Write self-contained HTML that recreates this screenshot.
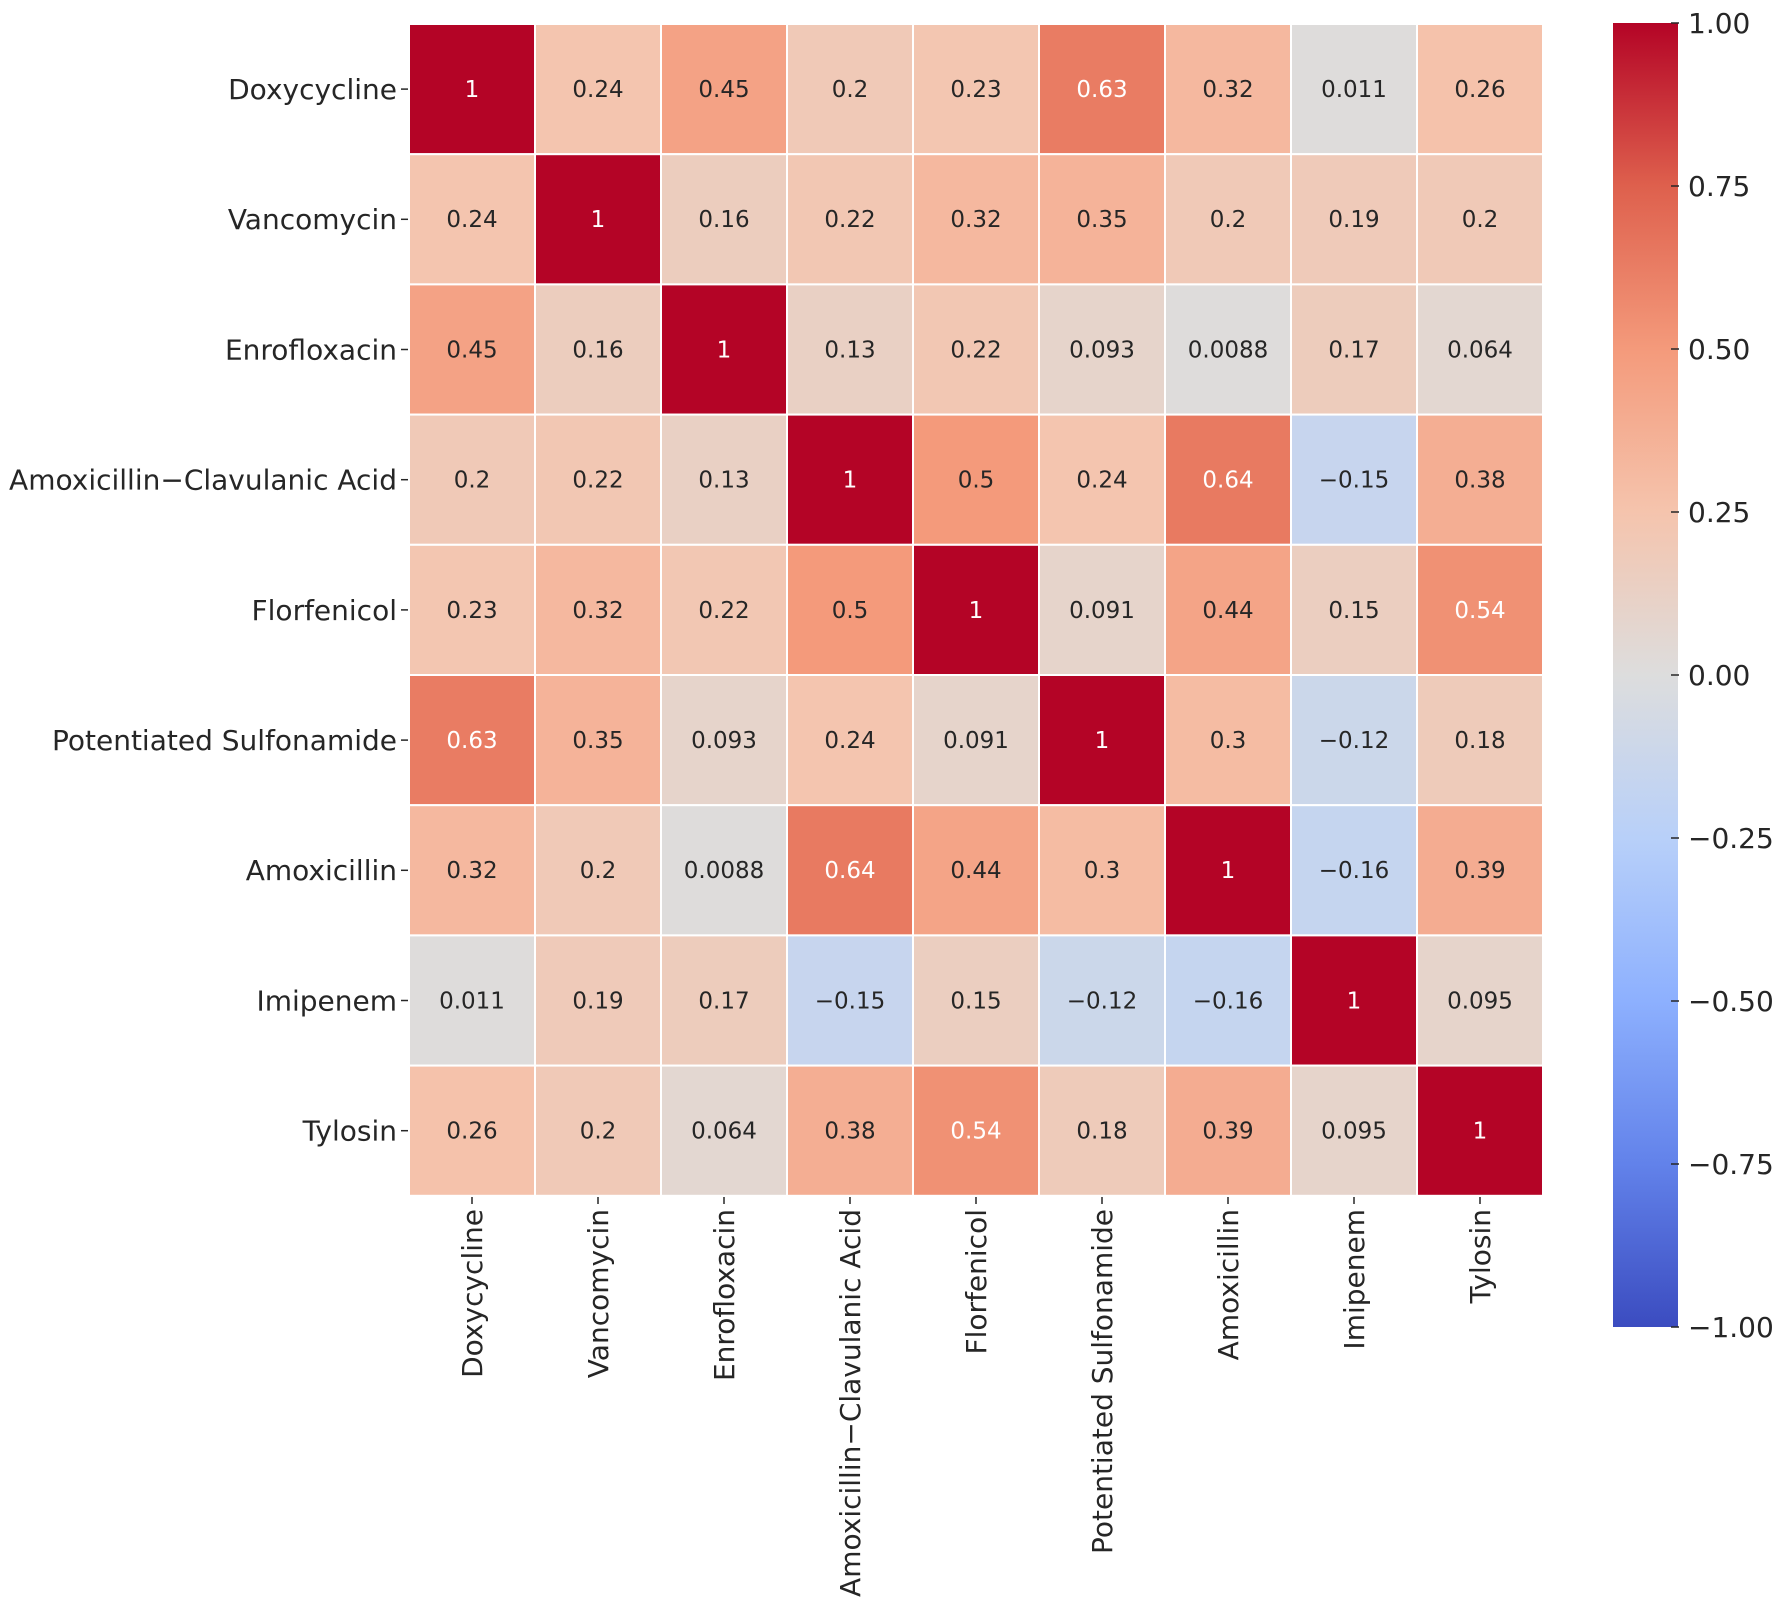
<!DOCTYPE html>
<html><head><meta charset="utf-8"><style>
html,body{margin:0;padding:0;background:#fff}
svg{display:block}
text{font-family:"DejaVu Sans","Liberation Sans",sans-serif;fill:#262626}
.a{font-size:23px;text-anchor:middle}
.w{fill:#fff}
.yl{font-size:28px;text-anchor:end}
.xl{font-size:28px;text-anchor:end}
.cb{font-size:28px}
rect.c{stroke:#fff;stroke-width:2}
</style></head><body>
<svg width="1784" height="1603" viewBox="0 0 1784 1603" xmlns="http://www.w3.org/2000/svg">
<defs>
<linearGradient id="g" x1="0" y1="1" x2="0" y2="0">
<stop offset="0" stop-color="rgb(59,76,192)"/>
<stop offset="0.125" stop-color="rgb(98,130,234)"/>
<stop offset="0.25" stop-color="rgb(141,176,254)"/>
<stop offset="0.375" stop-color="rgb(184,208,249)"/>
<stop offset="0.5" stop-color="rgb(221,221,221)"/>
<stop offset="0.625" stop-color="rgb(245,196,173)"/>
<stop offset="0.75" stop-color="rgb(244,154,123)"/>
<stop offset="0.875" stop-color="rgb(222,96,77)"/>
<stop offset="1" stop-color="rgb(180,4,38)"/>
</linearGradient>
</defs>

<g transform="translate(409,24)">
<rect class="c" x="0" width="126" height="130.2" fill="rgb(180,4,38)"/><text class="a w" x="63" y="73">1</text>
<rect class="c" x="126" width="126" height="130.2" fill="rgb(244,197,175)"/><text class="a" x="189" y="73">0.24</text>
<rect class="c" x="252" width="126" height="130.2" fill="rgb(244,162,133)"/><text class="a" x="315" y="73">0.45</text>
<rect class="c" x="378" width="126" height="130.2" fill="rgb(240,201,183)"/><text class="a" x="441" y="73">0.2</text>
<rect class="c" x="504" width="126" height="130.2" fill="rgb(243,198,177)"/><text class="a" x="567" y="73">0.23</text>
<rect class="c" x="630" width="126" height="130.2" fill="rgb(233,124,99)"/><text class="a w" x="693" y="73">0.63</text>
<rect class="c" x="756" width="126" height="130.2" fill="rgb(245,184,159)"/><text class="a" x="819" y="73">0.32</text>
<rect class="c" x="882" width="126" height="130.2" fill="rgb(222,220,219)"/><text class="a" x="945" y="73">0.011</text>
<rect class="c" x="1008" width="126" height="130.2" fill="rgb(245,194,171)"/><text class="a" x="1071" y="73">0.26</text>
</g>
<g transform="translate(409,154.2)">
<rect class="c" x="0" width="126" height="130.2" fill="rgb(244,197,175)"/><text class="a" x="63" y="73">0.24</text>
<rect class="c" x="126" width="126" height="130.2" fill="rgb(180,4,38)"/><text class="a w" x="189" y="73">1</text>
<rect class="c" x="252" width="126" height="130.2" fill="rgb(236,205,190)"/><text class="a" x="315" y="73">0.16</text>
<rect class="c" x="378" width="126" height="130.2" fill="rgb(242,199,179)"/><text class="a" x="441" y="73">0.22</text>
<rect class="c" x="504" width="126" height="130.2" fill="rgb(245,184,159)"/><text class="a" x="567" y="73">0.32</text>
<rect class="c" x="630" width="126" height="130.2" fill="rgb(245,179,153)"/><text class="a" x="693" y="73">0.35</text>
<rect class="c" x="756" width="126" height="130.2" fill="rgb(240,201,183)"/><text class="a" x="819" y="73">0.2</text>
<rect class="c" x="882" width="126" height="130.2" fill="rgb(239,202,185)"/><text class="a" x="945" y="73">0.19</text>
<rect class="c" x="1008" width="126" height="130.2" fill="rgb(240,201,183)"/><text class="a" x="1071" y="73">0.2</text>
</g>
<g transform="translate(409,284.4)">
<rect class="c" x="0" width="126" height="130.2" fill="rgb(244,162,133)"/><text class="a" x="63" y="73">0.45</text>
<rect class="c" x="126" width="126" height="130.2" fill="rgb(236,205,190)"/><text class="a" x="189" y="73">0.16</text>
<rect class="c" x="252" width="126" height="130.2" fill="rgb(180,4,38)"/><text class="a w" x="315" y="73">1</text>
<rect class="c" x="378" width="126" height="130.2" fill="rgb(233,208,196)"/><text class="a" x="441" y="73">0.13</text>
<rect class="c" x="504" width="126" height="130.2" fill="rgb(242,199,179)"/><text class="a" x="567" y="73">0.22</text>
<rect class="c" x="630" width="126" height="130.2" fill="rgb(230,212,203)"/><text class="a" x="693" y="73">0.093</text>
<rect class="c" x="756" width="126" height="130.2" fill="rgb(222,220,219)"/><text class="a" x="819" y="73">0.0088</text>
<rect class="c" x="882" width="126" height="130.2" fill="rgb(237,204,188)"/><text class="a" x="945" y="73">0.17</text>
<rect class="c" x="1008" width="126" height="130.2" fill="rgb(227,215,209)"/><text class="a" x="1071" y="73">0.064</text>
</g>
<g transform="translate(409,414.6)">
<rect class="c" x="0" width="126" height="130.2" fill="rgb(240,201,183)"/><text class="a" x="63" y="73">0.2</text>
<rect class="c" x="126" width="126" height="130.2" fill="rgb(242,199,179)"/><text class="a" x="189" y="73">0.22</text>
<rect class="c" x="252" width="126" height="130.2" fill="rgb(233,208,196)"/><text class="a" x="315" y="73">0.13</text>
<rect class="c" x="378" width="126" height="130.2" fill="rgb(180,4,38)"/><text class="a w" x="441" y="73">1</text>
<rect class="c" x="504" width="126" height="130.2" fill="rgb(244,154,123)"/><text class="a" x="567" y="73">0.5</text>
<rect class="c" x="630" width="126" height="130.2" fill="rgb(244,197,175)"/><text class="a" x="693" y="73">0.24</text>
<rect class="c" x="756" width="126" height="130.2" fill="rgb(232,122,97)"/><text class="a w" x="819" y="73">0.64</text>
<rect class="c" x="882" width="126" height="130.2" fill="rgb(199,213,238)"/><text class="a" x="945" y="73">−0.15</text>
<rect class="c" x="1008" width="126" height="130.2" fill="rgb(244,174,147)"/><text class="a" x="1071" y="73">0.38</text>
</g>
<g transform="translate(409,544.8)">
<rect class="c" x="0" width="126" height="130.2" fill="rgb(243,198,177)"/><text class="a" x="63" y="73">0.23</text>
<rect class="c" x="126" width="126" height="130.2" fill="rgb(245,184,159)"/><text class="a" x="189" y="73">0.32</text>
<rect class="c" x="252" width="126" height="130.2" fill="rgb(242,199,179)"/><text class="a" x="315" y="73">0.22</text>
<rect class="c" x="378" width="126" height="130.2" fill="rgb(244,154,123)"/><text class="a" x="441" y="73">0.5</text>
<rect class="c" x="504" width="126" height="130.2" fill="rgb(180,4,38)"/><text class="a w" x="567" y="73">1</text>
<rect class="c" x="630" width="126" height="130.2" fill="rgb(230,212,203)"/><text class="a" x="693" y="73">0.091</text>
<rect class="c" x="756" width="126" height="130.2" fill="rgb(244,164,135)"/><text class="a" x="819" y="73">0.44</text>
<rect class="c" x="882" width="126" height="130.2" fill="rgb(235,206,192)"/><text class="a" x="945" y="73">0.15</text>
<rect class="c" x="1008" width="126" height="130.2" fill="rgb(240,145,116)"/><text class="a w" x="1071" y="73">0.54</text>
</g>
<g transform="translate(409,675)">
<rect class="c" x="0" width="126" height="130.2" fill="rgb(233,124,99)"/><text class="a w" x="63" y="73">0.63</text>
<rect class="c" x="126" width="126" height="130.2" fill="rgb(245,179,153)"/><text class="a" x="189" y="73">0.35</text>
<rect class="c" x="252" width="126" height="130.2" fill="rgb(230,212,203)"/><text class="a" x="315" y="73">0.093</text>
<rect class="c" x="378" width="126" height="130.2" fill="rgb(244,197,175)"/><text class="a" x="441" y="73">0.24</text>
<rect class="c" x="504" width="126" height="130.2" fill="rgb(230,212,203)"/><text class="a" x="567" y="73">0.091</text>
<rect class="c" x="630" width="126" height="130.2" fill="rgb(180,4,38)"/><text class="a w" x="693" y="73">1</text>
<rect class="c" x="756" width="126" height="130.2" fill="rgb(245,188,163)"/><text class="a" x="819" y="73">0.3</text>
<rect class="c" x="882" width="126" height="130.2" fill="rgb(203,215,234)"/><text class="a" x="945" y="73">−0.12</text>
<rect class="c" x="1008" width="126" height="130.2" fill="rgb(238,203,186)"/><text class="a" x="1071" y="73">0.18</text>
</g>
<g transform="translate(409,805.2)">
<rect class="c" x="0" width="126" height="130.2" fill="rgb(245,184,159)"/><text class="a" x="63" y="73">0.32</text>
<rect class="c" x="126" width="126" height="130.2" fill="rgb(240,201,183)"/><text class="a" x="189" y="73">0.2</text>
<rect class="c" x="252" width="126" height="130.2" fill="rgb(222,220,219)"/><text class="a" x="315" y="73">0.0088</text>
<rect class="c" x="378" width="126" height="130.2" fill="rgb(232,122,97)"/><text class="a w" x="441" y="73">0.64</text>
<rect class="c" x="504" width="126" height="130.2" fill="rgb(244,164,135)"/><text class="a" x="567" y="73">0.44</text>
<rect class="c" x="630" width="126" height="130.2" fill="rgb(245,188,163)"/><text class="a" x="693" y="73">0.3</text>
<rect class="c" x="756" width="126" height="130.2" fill="rgb(180,4,38)"/><text class="a w" x="819" y="73">1</text>
<rect class="c" x="882" width="126" height="130.2" fill="rgb(197,213,239)"/><text class="a" x="945" y="73">−0.16</text>
<rect class="c" x="1008" width="126" height="130.2" fill="rgb(244,172,145)"/><text class="a" x="1071" y="73">0.39</text>
</g>
<g transform="translate(409,935.4)">
<rect class="c" x="0" width="126" height="130.2" fill="rgb(222,220,219)"/><text class="a" x="63" y="73">0.011</text>
<rect class="c" x="126" width="126" height="130.2" fill="rgb(239,202,185)"/><text class="a" x="189" y="73">0.19</text>
<rect class="c" x="252" width="126" height="130.2" fill="rgb(237,204,188)"/><text class="a" x="315" y="73">0.17</text>
<rect class="c" x="378" width="126" height="130.2" fill="rgb(199,213,238)"/><text class="a" x="441" y="73">−0.15</text>
<rect class="c" x="504" width="126" height="130.2" fill="rgb(235,206,192)"/><text class="a" x="567" y="73">0.15</text>
<rect class="c" x="630" width="126" height="130.2" fill="rgb(203,215,234)"/><text class="a" x="693" y="73">−0.12</text>
<rect class="c" x="756" width="126" height="130.2" fill="rgb(197,213,239)"/><text class="a" x="819" y="73">−0.16</text>
<rect class="c" x="882" width="126" height="130.2" fill="rgb(180,4,38)"/><text class="a w" x="945" y="73">1</text>
<rect class="c" x="1008" width="126" height="130.2" fill="rgb(230,212,203)"/><text class="a" x="1071" y="73">0.095</text>
</g>
<g transform="translate(409,1065.6)">
<rect class="c" x="0" width="126" height="130.2" fill="rgb(245,194,171)"/><text class="a" x="63" y="73">0.26</text>
<rect class="c" x="126" width="126" height="130.2" fill="rgb(240,201,183)"/><text class="a" x="189" y="73">0.2</text>
<rect class="c" x="252" width="126" height="130.2" fill="rgb(227,215,209)"/><text class="a" x="315" y="73">0.064</text>
<rect class="c" x="378" width="126" height="130.2" fill="rgb(244,174,147)"/><text class="a" x="441" y="73">0.38</text>
<rect class="c" x="504" width="126" height="130.2" fill="rgb(240,145,116)"/><text class="a w" x="567" y="73">0.54</text>
<rect class="c" x="630" width="126" height="130.2" fill="rgb(238,203,186)"/><text class="a" x="693" y="73">0.18</text>
<rect class="c" x="756" width="126" height="130.2" fill="rgb(244,172,145)"/><text class="a" x="819" y="73">0.39</text>
<rect class="c" x="882" width="126" height="130.2" fill="rgb(230,212,203)"/><text class="a" x="945" y="73">0.095</text>
<rect class="c" x="1008" width="126" height="130.2" fill="rgb(180,4,38)"/><text class="a w" x="1071" y="73">1</text>
</g>

<g stroke="#262626" stroke-width="1.5">
<line x1="401" y1="89.1" x2="408" y2="89.1"/><line x1="401" y1="219.3" x2="408" y2="219.3"/><line x1="401" y1="349.5" x2="408" y2="349.5"/>
<line x1="401" y1="479.7" x2="408" y2="479.7"/><line x1="401" y1="609.9" x2="408" y2="609.9"/><line x1="401" y1="740.1" x2="408" y2="740.1"/>
<line x1="401" y1="870.3" x2="408" y2="870.3"/><line x1="401" y1="1000.5" x2="408" y2="1000.5"/><line x1="401" y1="1130.7" x2="408" y2="1130.7"/>
</g>
<text class="yl" x="397" y="99">Doxycycline</text>
<text class="yl" x="397" y="229.2">Vancomycin</text>
<text class="yl" x="397" y="359.4">Enrofloxacin</text>
<text class="yl" x="397" y="489.6">Amoxicillin−Clavulanic Acid</text>
<text class="yl" x="397" y="619.8">Florfenicol</text>
<text class="yl" x="397" y="750">Potentiated Sulfonamide</text>
<text class="yl" x="397" y="880.2">Amoxicillin</text>
<text class="yl" x="397" y="1010.4">Imipenem</text>
<text class="yl" x="397" y="1140.6">Tylosin</text>

<g stroke="#262626" stroke-width="1.5">
<line x1="472" y1="1197" x2="472" y2="1204"/><line x1="598" y1="1197" x2="598" y2="1204"/><line x1="724" y1="1197" x2="724" y2="1204"/>
<line x1="850" y1="1197" x2="850" y2="1204"/><line x1="976" y1="1197" x2="976" y2="1204"/><line x1="1102" y1="1197" x2="1102" y2="1204"/>
<line x1="1228" y1="1197" x2="1228" y2="1204"/><line x1="1354" y1="1197" x2="1354" y2="1204"/><line x1="1480" y1="1197" x2="1480" y2="1204"/>
</g>
<text class="xl" transform="translate(482,1209) rotate(-90)">Doxycycline</text>
<text class="xl" transform="translate(608,1209) rotate(-90)">Vancomycin</text>
<text class="xl" transform="translate(734,1209) rotate(-90)">Enrofloxacin</text>
<text class="xl" transform="translate(860,1209) rotate(-90)">Amoxicillin−Clavulanic Acid</text>
<text class="xl" transform="translate(986,1209) rotate(-90)">Florfenicol</text>
<text class="xl" transform="translate(1112,1209) rotate(-90)">Potentiated Sulfonamide</text>
<text class="xl" transform="translate(1238,1209) rotate(-90)">Amoxicillin</text>
<text class="xl" transform="translate(1364,1209) rotate(-90)">Imipenem</text>
<text class="xl" transform="translate(1490,1209) rotate(-90)">Tylosin</text>

<rect x="1613" y="23" width="65" height="1304" fill="url(#g)"/>
<g stroke="#262626" stroke-width="1.5">
<line x1="1671" y1="23" x2="1679" y2="23"/><line x1="1671" y1="186" x2="1679" y2="186"/><line x1="1671" y1="349" x2="1679" y2="349"/>
<line x1="1671" y1="512" x2="1679" y2="512"/><line x1="1671" y1="675" x2="1679" y2="675"/><line x1="1671" y1="838" x2="1679" y2="838"/>
<line x1="1671" y1="1001" x2="1679" y2="1001"/><line x1="1671" y1="1164" x2="1679" y2="1164"/><line x1="1671" y1="1327" x2="1679" y2="1327"/>
</g>
<text class="cb" x="1688" y="33">1.00</text>
<text class="cb" x="1688" y="196">0.75</text>
<text class="cb" x="1688" y="359">0.50</text>
<text class="cb" x="1688" y="522">0.25</text>
<text class="cb" x="1688" y="685">0.00</text>
<text class="cb" x="1688" y="848">−0.25</text>
<text class="cb" x="1688" y="1011">−0.50</text>
<text class="cb" x="1688" y="1174">−0.75</text>
<text class="cb" x="1688" y="1337">−1.00</text>
</svg>
</body></html>
